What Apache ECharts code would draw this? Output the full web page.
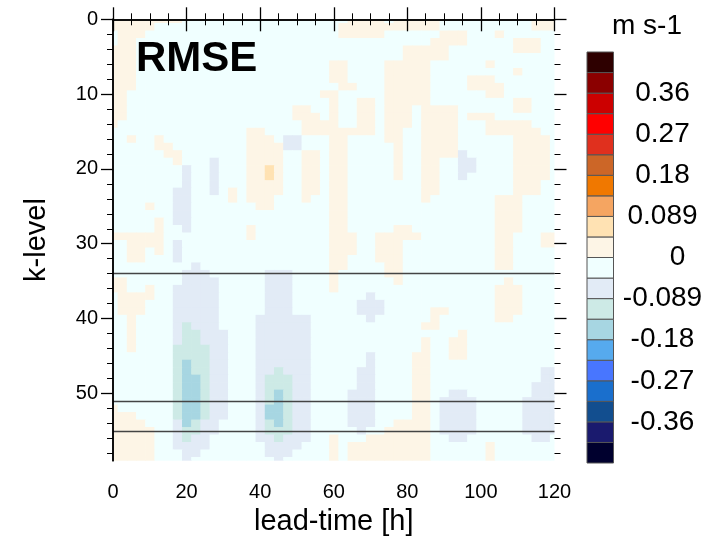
<!DOCTYPE html>
<html>
<head>
<meta charset="utf-8">
<script src="https://cdn.jsdelivr.net/npm/echarts@6/dist/echarts.min.js"></script>
<style>
html,body{margin:0;padding:0;background:#ffffff;}
#chart{width:718px;height:550px;}
</style>
</head>
<body>
<div id="chart"></div>
<script>
// ---------------- DATA ----------------
const leadTimes = [0,2.5,5,7.5,10,12.5,15,17.5,20,22.5,25,27.5,30,32.5,35,37.5,40,42.5,45,47.5,50,52.5,55,57.5,60,62.5,65,67.5,70,72.5,75,77.5,80,82.5,85,87.5,90,92.5,95,97.5,100,102.5,105,107.5,110,112.5,115,117.5,120];
const kLevels = [0,1,2,3,4,5,6,7,8,9,10,11,12,13,14,15,16,17,18,19,20,21,22,23,24,25,26,27,28,29,30,31,32,33,34,35,36,37,38,39,40,41,42,43,44,45,46,47,48,49,50,51,52,53,54,55,56,57,58,59];
// value read per cell (class codes, see classValues)
const classValues = {'.': -0.02, 'o': 0.02, 'b': -0.065, 't': -0.11, 'L': -0.155, 'p': 0.065};
const fieldRows = [
"oooooooo..|..........|......oooo|.ooooo....|......ooo",
"ooooo.....|..........|.....ooooo|oooooo....|......ooo",
".ooo......|..........|.....ooooo|......ooo.|..o......",
".oo.......|..........|..........|.....oooo.|....ooo..",
"ooo.......|..........|..........|..ooooo...|....ooo..",
"ooo.......|..........|..........|..ooooo...|.........",
"ooo.......|..........|....oo....|ooooo.....|.o.......",
"ooo.......|..........|....oo....|ooooo.....|....o....",
"ooo.......|..........|....oo....|ooooo....o|oo.......",
"ooo.......|..........|.....oo...|ooooo....o|ooo......",
"oo........|..........|...oo.....|ooooo.....|.oo......",
"oo........|..........|....o..oo.|ooooo.....|....oo...",
"oo........|..........|oo..o..oo.|ooo.oooo..|....oo...",
"oo........|..........|ooo.o..oo.|ooo.oooo.o|oo.......",
"o.........|..........|.oooo..oo.|ooo.oooo..|.ooooo...",
"..........|.....oo...|.oooooooo.|oo..oooo..|.oooooo..",
"..o..o....|.....ooo.b|b...oo....|oo..oooo..|....oooo.",
".....oo...|.....oooob|b...oo....|.o..oooo..|....oooo.",
"......oo..|.....oooo.|.oo.oo....|.o..oooob.|....oooo.",
".......o..|.b...oooo.|.oo.oo....|.o..oo..bb|....oooo.",
"........b.|.b...oopo.|.oo.oo....|.o..oo..bb|....oooo.",
"........b.|.b...oopo.|.oo.oo....|.o..oo..b.|....oooo.",
"........b.|.b...oooo.|.oo.oo....|....oo....|....ooo..",
".......bb.|.b.o.oooo.|.oo.oo....|....oo....|....ooo..",
".......bb.|...o.ooo..|.o..oo....|....o.....|..ooo....",
"....o..bb.|......oo..|....oo....|..........|..ooo....",
".......bb.|..........|....oo....|..........|..ooo....",
".....o.bb.|..........|....oo....|..........|..ooo....",
".....o..b.|.....o....|....oo....|.oo.......|..ooo....",
"oooooo....|.....o....|....ooo..o|oooo......|..oo...oo",
"..oooo.b..|..........|....ooo..o|oo........|..oo...oo",
"..oo.o.b..|..........|....ooo..o|oo........|..oo.....",
"..oo...b..|..........|....oo...o|oo........|..oo.....",
".........b|..........|....oo....|oo........|..oo.....",
"........bb|b......bbb|....o.....|oo........|.........",
"oo......bb|bb.....bbb|....o.....|.o........|...o.....",
"oo..o..bbb|bb.....bbb|....o.....|..........|..ooo....",
".oooo..bbb|bb.....bbb|........b.|..........|..ooo....",
".ooo...bbb|bb.....bbb|.......bbb|..........|..ooo....",
".ooo...bbb|bb.....bbb|.......bbb|.....oo...|..ooo....",
"..o....bbb|bb....bbbb|bb......b.|.....o....|..oo.....",
"..o....btb|bb....bbbb|bb........|....oo....|.........",
"..o....btt|bbb...bbbb|bb........|........o.|.........",
"..o....btt|bbb...bbbb|bb........|....o..oo.|.........",
"..o....ttt|tbb...bbbb|bb........|....o..oo.|.........",
".......ttt|tbb...bbbb|bb......b.|...oo..oo.|.........",
".......tLt|tbb...bbbb|bb......b.|...oo.....|.........",
".......tLt|tbb...bbtb|bb.....bb.|...oo.....|.......bb",
".......tLL|tbb...bttt|bb.....bb.|...oo.....|.......bb",
".......tLL|tbb...bttt|bb.....bb.|...oo.....|......bbb",
".......tLL|tbb...btLt|bb....bbb.|...oo..bb.|......bbb",
".......tLL|tbb...btLt|bb....bbb.|...oo.bbbb|.....bbbb",
"o......tLL|tbb...bLLt|bb....bbb.|...oo.bbbb|.....bbbb",
"ooo....tLL|tbb...bLLt|bb....bbb.|...oo.bbbb|.....bbbb",
"oooo...bLt|bb....btLt|bb....bbb.|.oooo.bbbb|.....bbbb",
"ooooo..btt|bb....bttt|bb.....b..|ooooo.bbbb|.....bbbb",
"ooooo..btb|b.....bbtb|bb..o...oo|ooooo..bb.|......bb.",
"ooooo..bbb|b......bbb|b...o.oooo|ooooo.....|.o.......",
"ooooo...bb|.......bbb|....o.oooo|ooooo.....|.o.......",
"ooooo...b.|........b.|....o.oooo|ooooo.....|.o......."
];
// contour level boundaries (m s-1) and colorbar
const levelBounds = [-0.445,-0.4005,-0.356,-0.3115,-0.267,-0.2225,-0.178,-0.1335,-0.089,-0.0445,0,0.0445,0.089,0.1335,0.178,0.2225,0.267,0.3115,0.356,0.4005,0.445];
const colorbarColors = ['#00002e','#1a1a6e','#124e8f','#1a6fcd','#4876ff','#56aaee','#a7d6e2','#cdeae6','#e2ebf6','#f0ffff','#fdf5e6','#ffe2b3','#f5a561','#f07800','#cc6627','#e0301e','#ff0000','#cc0000','#8b0000','#2e0000'];
const colorbarTickLabels = ['','-0.36','-0.27','-0.18','-0.089','0','0.089','0.18','0.27','0.36',''];
const hLineLevels = [34, 51, 55];

// ---------------- BUILD ----------------
const FONT = "'Liberation Sans', Arial, Helvetica, sans-serif";
const cells = [];
fieldRows.forEach(function (row, r) {
  const s = row.replace(/\|/g, '');
  for (let c = 0; c < leadTimes.length; c++) {
    const ch = s.charAt(c) || '.';
    cells.push([leadTimes[c], kLevels[r], classValues[ch]]);
  }
});
function colorFor(v) {
  for (let i = 0; i < colorbarColors.length; i++) {
    if (v >= levelBounds[i] && v < levelBounds[i + 1]) return colorbarColors[i];
  }
  return v < levelBounds[0] ? colorbarColors[0] : colorbarColors[colorbarColors.length - 1];
}
const HALF_W = 1.25, HALF_H = 0.5;

const PL = 113, PT = 19.3, PW = 441.5, PH = 441.4;
const KMAX = 59;
const tickColor = '#000';

function hiddenX(grid) {
  return {gridIndex: grid, type: 'value', min: 0, max: 1, show: false};
}

const option = {
  backgroundColor: '#ffffff',
  animation: false,
  textStyle: {fontFamily: FONT},
  title: {
    text: 'RMSE', left: 131, top: 33,
    textStyle: {fontFamily: FONT, fontSize: 42, fontWeight: 'bold', color: '#000'}
  },
  graphic: [{
    type: 'text', left: 612, top: 12, z: 20,
    style: {text: 'm s-1', fontFamily: FONT, fontSize: 28, fill: '#000'}
  }],
  grid: [
    {left: PL, top: PT, width: PW, height: PH, outerBoundsMode: 'none'},
    {left: PL, top: PT, width: PW, height: PH * 50 / KMAX, outerBoundsMode: 'none'},
    {left: PL, top: PT, width: PW, height: PH * 58 / KMAX, outerBoundsMode: 'none'},
    {left: 587, top: 52, width: 26.5, height: 411, outerBoundsMode: 'none'}
  ],
  xAxis: [
    {
      gridIndex: 0, type: 'value', position: 'bottom', min: 0, max: 120, interval: 20, z: 10,
      axisLine: {show: true, lineStyle: {color: tickColor, width: 1.5}},
      axisTick: {show: true, length: 12, lineStyle: {color: tickColor, width: 1.3}},
      minorTick: {show: true, splitNumber: 4, length: 6, lineStyle: {color: tickColor, width: 1}},
      axisLabel: {show: true, fontSize: 20, color: '#000', margin: 22, fontFamily: FONT},
      splitLine: {show: false}, minorSplitLine: {show: false},
      name: 'lead-time [h]', nameLocation: 'middle', nameGap: 47,
      nameTextStyle: {fontSize: 29, color: '#000', fontFamily: FONT}
    },
    {
      gridIndex: 0, type: 'value', position: 'top', min: 0, max: 120, interval: 20, z: 10,
      axisLine: {show: true, lineStyle: {color: tickColor, width: 1.5}},
      axisTick: {show: true, length: 12, lineStyle: {color: tickColor, width: 1.3}},
      minorTick: {show: true, splitNumber: 4, length: 6, lineStyle: {color: tickColor, width: 1}},
      axisLabel: {show: false}, splitLine: {show: false}
    },
    hiddenX(1), hiddenX(2), hiddenX(3)
  ],
  yAxis: [
    {
      gridIndex: 0, type: 'value', position: 'left', min: 0, max: KMAX, inverse: true, z: 10,
      axisLine: {show: true, lineStyle: {color: tickColor, width: 1.5}},
      axisTick: {show: false}, axisLabel: {show: false}, splitLine: {show: false},
      name: 'k-level', nameLocation: 'middle', nameGap: 62, nameRotate: 90,
      nameTextStyle: {fontSize: 29, color: '#000', fontFamily: FONT}
    },
    {
      gridIndex: 0, type: 'value', position: 'right', min: 0, max: KMAX, inverse: true, z: 10,
      axisLine: {show: true, lineStyle: {color: tickColor, width: 1.5}},
      axisTick: {show: false}, axisLabel: {show: false}, splitLine: {show: false}
    },
    {
      gridIndex: 1, type: 'value', position: 'left', min: 0, max: 50, interval: 10, inverse: true, z: 10,
      axisLine: {show: false},
      axisTick: {show: true, length: 12, lineStyle: {color: tickColor, width: 1.3}},
      axisLabel: {show: true, fontSize: 20, color: '#000', margin: 15, fontFamily: FONT},
      splitLine: {show: false}
    },
    {
      gridIndex: 1, type: 'value', position: 'right', min: 0, max: 50, interval: 10, inverse: true, z: 10,
      axisLine: {show: false},
      axisTick: {show: true, length: 12, lineStyle: {color: tickColor, width: 1.3}},
      axisLabel: {show: false}, splitLine: {show: false}
    },
    {
      gridIndex: 2, type: 'value', position: 'left', min: 0, max: 58, interval: 2, inverse: true, z: 10,
      axisLine: {show: false},
      axisTick: {show: true, length: 6, lineStyle: {color: tickColor, width: 1}},
      axisLabel: {show: false}, splitLine: {show: false}
    },
    {
      gridIndex: 2, type: 'value', position: 'right', min: 0, max: 58, interval: 2, inverse: true, z: 10,
      axisLine: {show: false},
      axisTick: {show: true, length: 6, lineStyle: {color: tickColor, width: 1}},
      axisLabel: {show: false}, splitLine: {show: false}
    },
    {
      gridIndex: 3, type: 'value', position: 'right', min: 0, max: 20, interval: 2, z: 10,
      axisLine: {show: false}, axisTick: {show: false}, splitLine: {show: false},
      axisLabel: {
        show: true, fontSize: 28, color: '#000', margin: 49, align: 'center', fontFamily: FONT,
        formatter: function (v) {
          const t = colorbarTickLabels[Math.round(v / 2)] || '';
          return t === '0' ? '{z|0}' : t;
        },
        rich: {z: {fontSize: 28, fontFamily: FONT, color: '#000', padding: [0, 0, 0, 30]}}
      }
    }
  ],
  series: [
    {
      type: 'custom', name: 'field', xAxisIndex: 0, yAxisIndex: 0, z: 2,
      data: cells, silent: true,
      renderItem: function (params, api) {
        const h = api.value(0), k = api.value(1), v = api.value(2);
        const p0 = api.coord([h - HALF_W, k - HALF_H]);
        const p1 = api.coord([h + HALF_W, k + HALF_H]);
        const rect = {
          x: Math.min(p0[0], p1[0]), y: Math.min(p0[1], p1[1]),
          width: Math.abs(p1[0] - p0[0]) + 0.7, height: Math.abs(p1[1] - p0[1]) + 0.7
        };
        const cs = params.coordSys;
        const clipped = echarts.graphic.clipRectByRect(rect, {x: cs.x, y: cs.y, width: cs.width, height: cs.height});
        if (!clipped) return null;
        return {type: 'rect', shape: clipped, style: {fill: colorFor(v)}};
      }
    },
    {
      type: 'line', name: 'levels', xAxisIndex: 0, yAxisIndex: 0, data: [], z: 5,
      markLine: {
        silent: true, symbol: ['none', 'none'], label: {show: false},
        lineStyle: {color: '#444', width: 1.3, type: 'solid'},
        data: hLineLevels.map(function (v) { return {yAxis: v}; })
      }
    },
    {
      type: 'custom', name: 'colorbar', xAxisIndex: 4, yAxisIndex: 6, z: 3, silent: true,
      data: colorbarColors.map(function (c, i) { return [0, i]; }),
      renderItem: function (params, api) {
        const i = api.value(1);
        const p0 = api.coord([0, i]);
        const p1 = api.coord([1, i + 1]);
        return {
          type: 'rect',
          shape: {x: Math.min(p0[0], p1[0]), y: Math.min(p0[1], p1[1]), width: Math.abs(p1[0] - p0[0]), height: Math.abs(p1[1] - p0[1])},
          style: {fill: colorbarColors[i], stroke: '#555', lineWidth: 1}
        };
      }
    }
  ]
};
const chart = echarts.init(document.getElementById('chart'), null, {renderer: 'canvas', width: 718, height: 550});
chart.setOption(option);
</script>
</body>
</html>
